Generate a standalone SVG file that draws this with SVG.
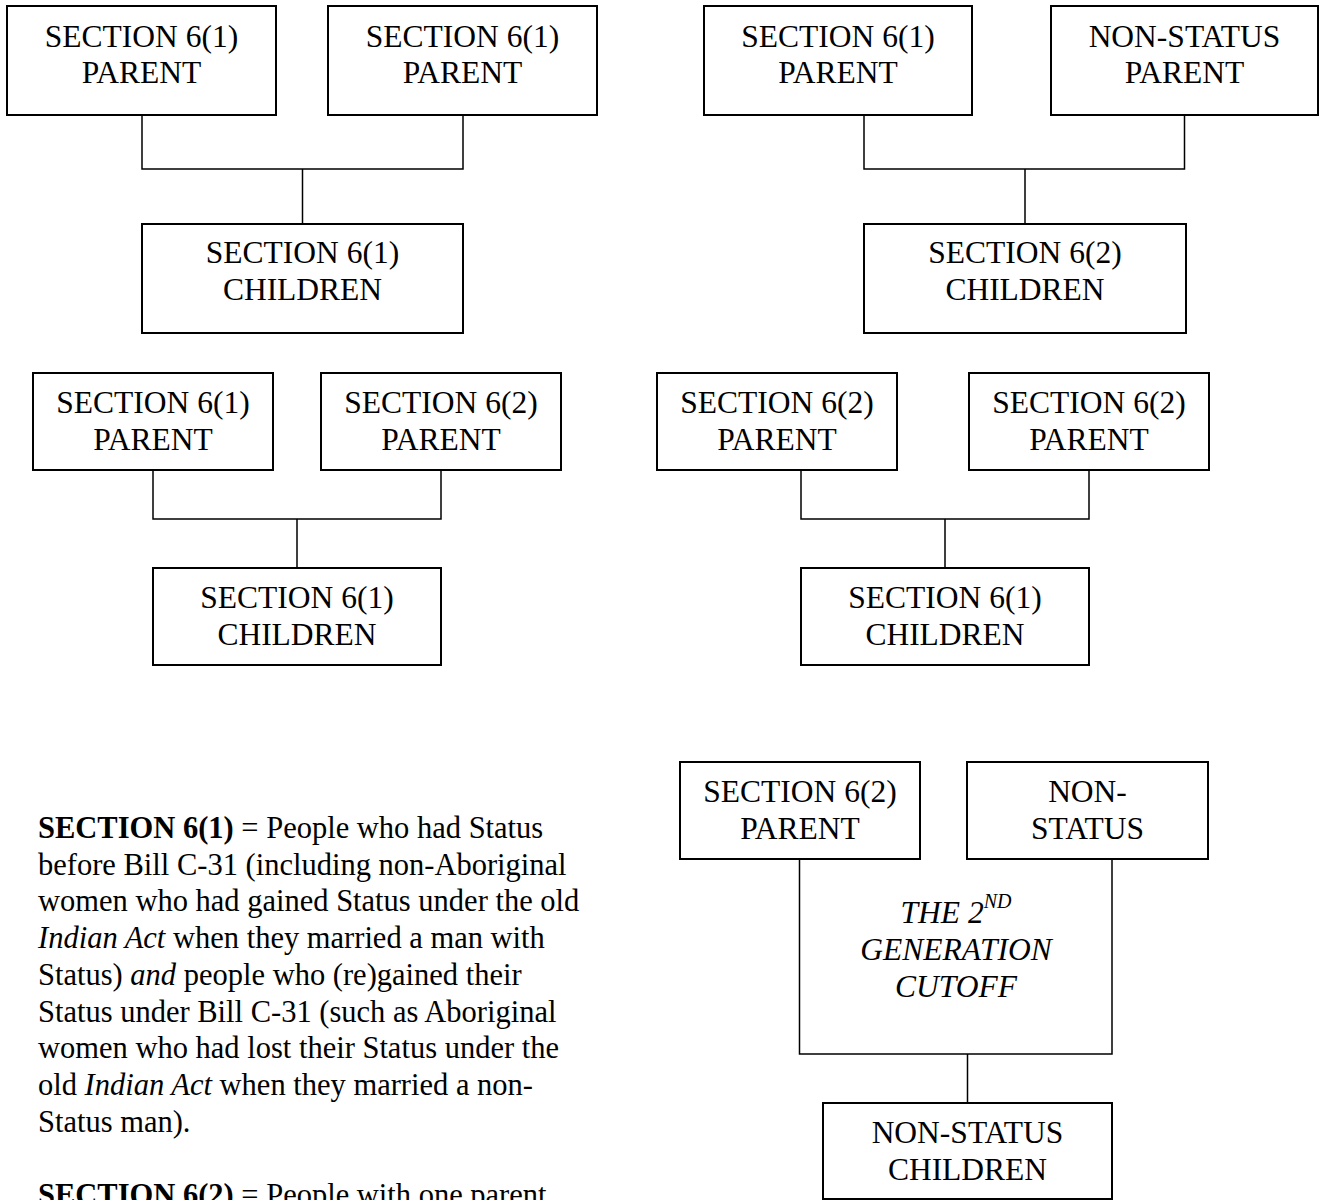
<svg xmlns="http://www.w3.org/2000/svg" width="1322" height="1200" viewBox="0 0 1322 1200">
<style>
.box{fill:#fff;stroke:#000;stroke-width:2}
.con{fill:none;stroke:#000;stroke-width:1.5}
.t{font-family:"Liberation Serif","Times New Roman",serif;font-size:31.5px;fill:#000;text-anchor:middle}
.ti{font-family:"Liberation Serif","Times New Roman",serif;font-size:31.5px;fill:#000;text-anchor:middle;font-style:italic}
.body{font-family:"Liberation Serif","Times New Roman",serif;font-size:30.5px;fill:#000}
</style>
<rect width="1322" height="1200" fill="#fff"/>
<g id="connectors">
<path class="con" d="M142 115V169H463V115M302.5 169V224"/>
<path class="con" d="M864 115V169H1184.5V115M1025 169V224"/>
<path class="con" d="M153 470V519H441V470M297 519V568"/>
<path class="con" d="M801 470V519H1089V470M945 519V568"/>
<path class="con" d="M799.5 859V1054H1112V859M967.5 1054V1103"/>
</g>
<g id="n1"><rect class="box" x="7" y="6" width="269" height="109"/><text class="t" x="141.5" y="47">SECTION 6(1)</text><text class="t" x="141.5" y="83">PARENT</text></g>
<g id="n2"><rect class="box" x="328" y="6" width="269" height="109"/><text class="t" x="462.5" y="47">SECTION 6(1)</text><text class="t" x="462.5" y="83">PARENT</text></g>
<g id="n3"><rect class="box" x="142" y="224" width="321" height="109"/><text class="t" x="302.5" y="263">SECTION 6(1)</text><text class="t" x="302.5" y="300">CHILDREN</text></g>
<g id="n4"><rect class="box" x="704" y="6" width="268" height="109"/><text class="t" x="838" y="47">SECTION 6(1)</text><text class="t" x="838" y="83">PARENT</text></g>
<g id="n5"><rect class="box" x="1051" y="6" width="267" height="109"/><text class="t" x="1184.5" y="47">NON-STATUS</text><text class="t" x="1184.5" y="83">PARENT</text></g>
<g id="n6"><rect class="box" x="864" y="224" width="322" height="109"/><text class="t" x="1025" y="263">SECTION 6(2)</text><text class="t" x="1025" y="300">CHILDREN</text></g>
<g id="n7"><rect class="box" x="33" y="373" width="240" height="97"/><text class="t" x="153" y="413">SECTION 6(1)</text><text class="t" x="153" y="450">PARENT</text></g>
<g id="n8"><rect class="box" x="321" y="373" width="240" height="97"/><text class="t" x="441" y="413">SECTION 6(2)</text><text class="t" x="441" y="450">PARENT</text></g>
<g id="n9"><rect class="box" x="153" y="568" width="288" height="97"/><text class="t" x="297" y="608">SECTION 6(1)</text><text class="t" x="297" y="645">CHILDREN</text></g>
<g id="n10"><rect class="box" x="657" y="373" width="240" height="97"/><text class="t" x="777" y="413">SECTION 6(2)</text><text class="t" x="777" y="450">PARENT</text></g>
<g id="n11"><rect class="box" x="969" y="373" width="240" height="97"/><text class="t" x="1089" y="413">SECTION 6(2)</text><text class="t" x="1089" y="450">PARENT</text></g>
<g id="n12"><rect class="box" x="801" y="568" width="288" height="97"/><text class="t" x="945" y="608">SECTION 6(1)</text><text class="t" x="945" y="645">CHILDREN</text></g>
<g id="n13"><rect class="box" x="680" y="762" width="240" height="97"/><text class="t" x="800" y="802">SECTION 6(2)</text><text class="t" x="800" y="839">PARENT</text></g>
<g id="n14"><rect class="box" x="967" y="762" width="241" height="97"/><text class="t" x="1087.5" y="802">NON-</text><text class="t" x="1087.5" y="839">STATUS</text></g>
<g id="n15"><text class="ti" x="956" y="923">THE 2<tspan font-size="20" dy="-15">ND</tspan></text><text class="ti" x="956" y="960">GENERATION</text><text class="ti" x="956" y="997">CUTOFF</text></g>
<g id="n16"><rect class="box" x="823" y="1103" width="289" height="96"/><text class="t" x="967.5" y="1143">NON-STATUS</text><text class="t" x="967.5" y="1180">CHILDREN</text></g>
<g id="legend" class="body">
<text x="38" y="838"><tspan font-weight="bold">SECTION 6(1)</tspan> = People who had Status</text>
<text x="38" y="874.7">before Bill C-31 (including non-Aboriginal</text>
<text x="38" y="911.4">women who had gained Status under the old</text>
<text x="38" y="948"><tspan font-style="italic">Indian Act</tspan> when they married a man with</text>
<text x="38" y="984.8">Status) <tspan font-style="italic">and</tspan> people who (re)gained their</text>
<text x="38" y="1021.5">Status under Bill C-31 (such as Aboriginal</text>
<text x="38" y="1058.2">women who had lost their Status under the</text>
<text x="38" y="1094.9">old <tspan font-style="italic">Indian Act</tspan> when they married a non-</text>
<text x="38" y="1131.6">Status man).</text>
<text x="38" y="1205"><tspan font-weight="bold">SECTION 6(2)</tspan> = People with one parent</text>
</g>
</svg>
